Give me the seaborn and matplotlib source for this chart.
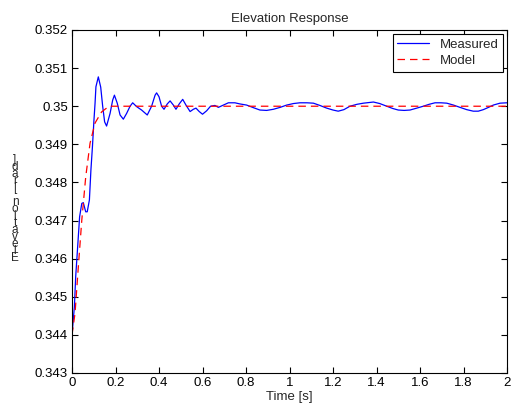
import matplotlib
matplotlib.use("Agg")
import matplotlib.pyplot as plt
import seaborn as sns
import pandas as pd

t_meas = [0.0, 0.011, 0.017, 0.026, 0.035, 0.045, 0.052, 0.063, 0.07, 0.08, 0.087, 0.094,
          0.101, 0.106, 0.110, 0.121, 0.132, 0.141, 0.150, 0.159, 0.175, 0.187, 0.195, 0.208,
          0.221, 0.236, 0.251, 0.267, 0.279, 0.297, 0.32, 0.346, 0.366, 0.382, 0.389, 0.4,
          0.412, 0.423, 0.438, 0.451, 0.466, 0.478, 0.493, 0.509, 0.524, 0.543, 0.558, 0.57,
          0.585, 0.6, 0.619, 0.637, 0.657, 0.673, 0.696, 0.719, 0.749, 0.772, 0.803, 0.835,
          0.864, 0.895, 0.926, 0.957, 0.987, 1.018, 1.048, 1.08, 1.11, 1.14, 1.171, 1.2,
          1.224, 1.25, 1.278, 1.31, 1.34, 1.386, 1.415, 1.447, 1.475, 1.5, 1.527, 1.554, 1.585,
          1.615, 1.642, 1.669, 1.696, 1.723, 1.754, 1.784, 1.815, 1.845, 1.868, 1.891, 1.915,
          1.937, 1.968, 2.0]
y_meas = [0.3440, 0.34474, 0.34553, 0.34631, 0.3471, 0.34745, 0.34747, 0.34723, 0.34723,
          0.34754, 0.34833, 0.34894, 0.34964, 0.35008, 0.35051, 0.35077, 0.3505, 0.35,
          0.34959, 0.34948, 0.34981, 0.35016, 0.35029, 0.35008, 0.34977, 0.34966, 0.34981,
          0.35, 0.35009, 0.34999, 0.3499, 0.34977, 0.35, 0.35029, 0.35035, 0.35025, 0.35,
          0.34992, 0.35006, 0.35014, 0.35003, 0.34992, 0.35006, 0.35018, 0.35003, 0.34986,
          0.34992, 0.34995, 0.34986, 0.34979, 0.34988, 0.35, 0.35002, 0.34997, 0.35003,
          0.35009, 0.35009, 0.35006, 0.35003, 0.34996, 0.3499, 0.34989, 0.34992, 0.34997,
          0.35003, 0.35007, 0.35009, 0.35009, 0.35008, 0.35002, 0.34995, 0.3499, 0.34987,
          0.34991, 0.35, 0.35005, 0.35008, 0.35011, 0.35007, 0.35, 0.34994, 0.3499, 0.34989,
          0.3499, 0.34995, 0.35, 0.35005, 0.35009, 0.35009, 0.35008, 0.35003, 0.34997,
          0.34991, 0.34987, 0.34987, 0.34991, 0.34997, 0.35003, 0.35008, 0.35009]

t_model = [0, 0.014, 0.029, 0.045, 0.063, 0.083, 0.106, 0.136, 0.17, 2.0]
y_model = [0.344, 0.34457, 0.34578, 0.34701, 0.34814, 0.34903, 0.34956, 0.34985, 0.35, 0.35]

x_ticks = [0, 0.2, 0.4, 0.6, 0.8, 1, 1.2, 1.4, 1.6, 1.8, 2]
x_ticklabels = ["0", "0.2", "0.4", "0.6", "0.8", "1", "1.2", "1.4", "1.6", "1.8", "2"]
y_ticks = [0.343, 0.344, 0.345, 0.346, 0.347, 0.348, 0.349, 0.35, 0.351, 0.352]
y_ticklabels = ["0.343", "0.344", "0.345", "0.346", "0.347", "0.348", "0.349", "0.35", "0.351", "0.352"]

title = "Elevation Response"
xlabel = "Time [s]"
ylabel = "Elevation [rad]"

sns.set_style("ticks")
plt.rcParams["font.family"] = ["Liberation Sans", "DejaVu Sans"]

FS = 9.5
fig = plt.figure(figsize=(5.13, 4.13), dpi=100)
ax = fig.add_axes([72 / 513, 1 - 373 / 413, (507 - 72) / 513, (373 - 30) / 413])

df_m = pd.DataFrame({"t": t_meas, "y": y_meas})
df_p = pd.DataFrame({"t": t_model, "y": y_model})
sns.lineplot(data=df_m, x="t", y="y", ax=ax, color="#0000ff", lw=0.9, label="Measured",
             estimator=None, sort=False)
sns.lineplot(data=df_p, x="t", y="y", ax=ax, color="#ff0000", lw=0.9, label="Model",
             estimator=None, sort=False, dashes=False, linestyle=(0, (6, 4)))

ax.set_xlim(0, 2)
ax.set_ylim(0.343, 0.352)
ax.set_xticks(x_ticks)
ax.set_xticklabels(x_ticklabels)
ax.set_yticks(y_ticks)
ax.set_yticklabels(y_ticklabels)
ax.tick_params(direction="in", top=True, right=True, length=4, width=0.8, labelsize=FS,
               colors="black", pad=3)
for s in ax.spines.values():
    s.set_visible(True)
    s.set_color("black")
    s.set_linewidth(0.8)

ax.set_title(title, fontsize=FS, pad=6)
ax.set_xlabel(xlabel, fontsize=FS, labelpad=1)
ax.set_ylabel("")
stacked = "\n".join(reversed(ylabel))
fig.text(15 / 513, 1 - 209 / 413, stacked, fontsize=8.5, ha="center", va="center",
         linespacing=0.45)

leg = ax.legend(loc="upper right", fontsize=FS, frameon=True, fancybox=False,
                edgecolor="black", framealpha=1, borderaxespad=0.3, handlelength=2.4,
                borderpad=0.35, labelspacing=0.3, handletextpad=0.8)
leg.get_frame().set_linewidth(0.8)

fig.savefig("out.png", dpi=100)
